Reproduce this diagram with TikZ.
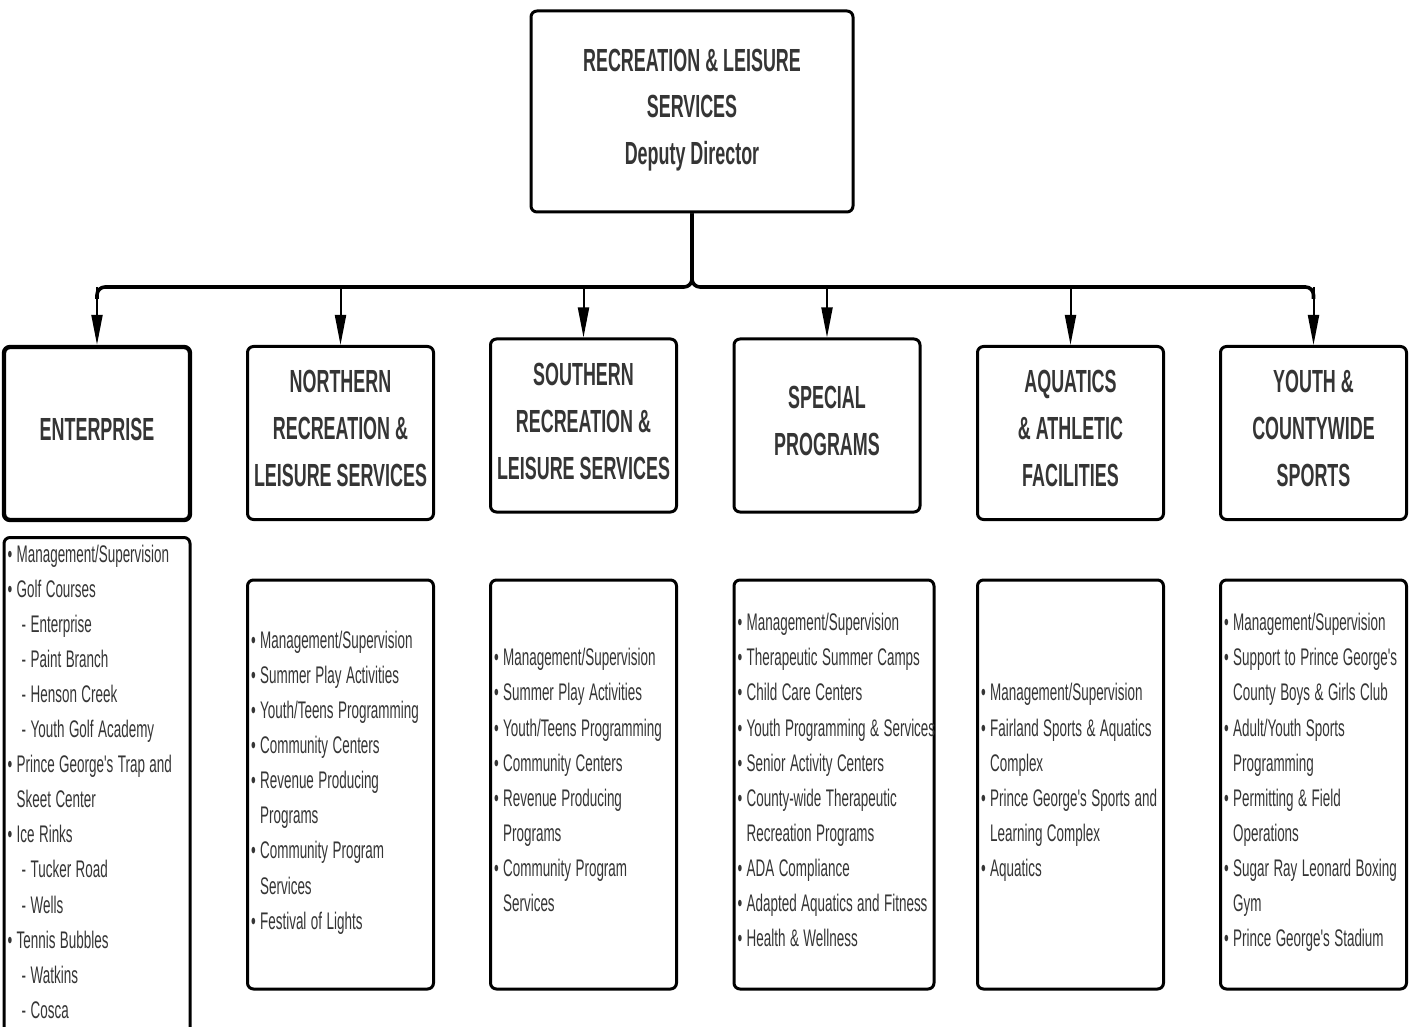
\documentclass[tikz,border=0pt]{standalone}
\usepackage{graphicx}
\usepackage{fontspec}
\setmainfont{Liberation Sans}[FakeStretch=0.56]
\newfontfamily\plainsans{Liberation Sans}
\usetikzlibrary{arrows.meta}
\definecolor{txt}{HTML}{353535}
\newcommand\bl{\textbullet\ }
\newcommand\ct{\hphantom{\textbullet\ }}
\newcommand\sbi{\ct\hspace*{4.5pt}-\ }
\newcommand\lst[1]{\scalebox{0.56}[1]{\begin{tabular}{@{}l@{}}#1\\[2.8pt]\end{tabular}}}
\newcommand\hpad{\rule[-4.5pt]{0pt}{4.5pt}}
\newcommand\listfont{\plainsans\fontsize{12pt}{17.55pt}\selectfont}
\begin{document}
\begin{tikzpicture}[x=0.5pt,y=-0.5pt,
 box/.style={draw=black, line width=1.5pt, rounded corners=3pt, fill=white, inner sep=0pt, text=txt},
 headbox/.style={box, minimum width=93pt, minimum height=86.5pt, align=center, font={\fontsize{16pt}{23.5pt}\selectfont\bfseries}},
 listbox/.style={box, minimum width=93pt, minimum height=204.5pt, align=left, inner xsep=1.75pt, text width=89.5pt, font=\listfont},
 busline/.style={line width=1.8pt, rounded corners=4pt},
 branch/.style={line width=1pt, -{Triangle[length=15pt,width=5.5pt]}},
]
\path[use as bounding box, fill=white] (0,0) rectangle (1414,1027);

\node[box, minimum width=161pt, minimum height=100.5pt, align=center, font={\fontsize{16pt}{23.3pt}\selectfont\bfseries}] (top) at (692,111.5) {RECREATION \& LEISURE\\SERVICES\\Deputy Director\rule[-5pt]{0pt}{5pt}};

\node[headbox, line width=2.2pt] (ent) at (97,433.5) {ENTERPRISE\hpad};
\node[headbox] (nor) at (340.5,433) {NORTHERN\\RECREATION \&\\LEISURE SERVICES\hpad};
\node[headbox] (sou) at (583.5,425.5) {SOUTHERN\\RECREATION \&\\LEISURE SERVICES\hpad};
\node[headbox] (spe) at (827,425.5) {SPECIAL\\PROGRAMS\hpad};
\node[headbox] (aqu) at (1070.5,433) {AQUATICS\\\& ATHLETIC\\FACILITIES\hpad};
\node[headbox] (you) at (1313.5,433) {YOUTH \&\\COUNTYWIDE\\SPORTS\hpad};

\coordinate (j) at (692,287);
\coordinate (ej) at (ent.north |- j);
\coordinate (yj) at (you.north |- j);
\draw[busline] (top.south) |- (ej) -- ++(0,12);
\draw[busline] (top.south) |- (yj) -- ++(0,12);
\foreach \n in {ent,nor,sou,spe,aqu,you}
  \draw[branch] (\n.north |- j) -- (\n.north);

\node[listbox, minimum height=248pt] (entL) at (97,786) {\lst{\bl Management/Supervision\\
\bl Golf Courses\\
\sbi Enterprise\\
\sbi Paint Branch\\
\sbi Henson Creek\\
\sbi Youth Golf Academy\\
\bl Prince George's Trap and\\
\ct Skeet Center\\
\bl Ice Rinks\\
\sbi Tucker Road\\
\sbi Wells\\
\bl Tennis Bubbles\\
\sbi Watkins\\
\sbi Cosca}};

\node[listbox] (norL) at (340.5,784.5) {\lst{\bl Management/Supervision\\
\bl Summer Play Activities\\
\bl Youth/Teens Programming\\
\bl Community Centers\\
\bl Revenue Producing\\
\ct Programs\\
\bl Community Program\\
\ct Services\\
\bl Festival of Lights}};

\node[listbox] (souL) at (583.5,784.5) {\lst{\bl Management/Supervision\\
\bl Summer Play Activities\\
\bl Youth/Teens Programming\\
\bl Community Centers\\
\bl Revenue Producing\\
\ct Programs\\
\bl Community Program\\
\ct Services}};

\node[listbox, minimum width=100pt, text width=96.5pt] (speL) at (834,784.5) {\lst{\bl Management/Supervision\\
\bl Therapeutic Summer Camps\\
\bl Child Care Centers\\
\bl Youth Programming \& Services\\
\bl Senior Activity Centers\\
\bl County-wide Therapeutic\\
\ct Recreation Programs\\
\bl ADA Compliance\\
\bl Adapted Aquatics and Fitness\\
\bl Health \& Wellness}};

\node[listbox] (aquL) at (1070.5,784.5) {\lst{\bl Management/Supervision\\
\bl Fairland Sports \& Aquatics\\
\ct Complex\\
\bl Prince George's Sports and\\
\ct Learning Complex\\
\bl Aquatics}};

\node[listbox] (youL) at (1313.5,784.5) {\lst{\bl Management/Supervision\\
\bl Support to Prince George's\\
\ct County Boys \& Girls Club\\
\bl Adult/Youth Sports\\
\ct Programming\\
\bl Permitting \& Field\\
\ct Operations\\
\bl Sugar Ray Leonard Boxing\\
\ct Gym\\
\bl Prince George's Stadium}};
\end{tikzpicture}
\end{document}
